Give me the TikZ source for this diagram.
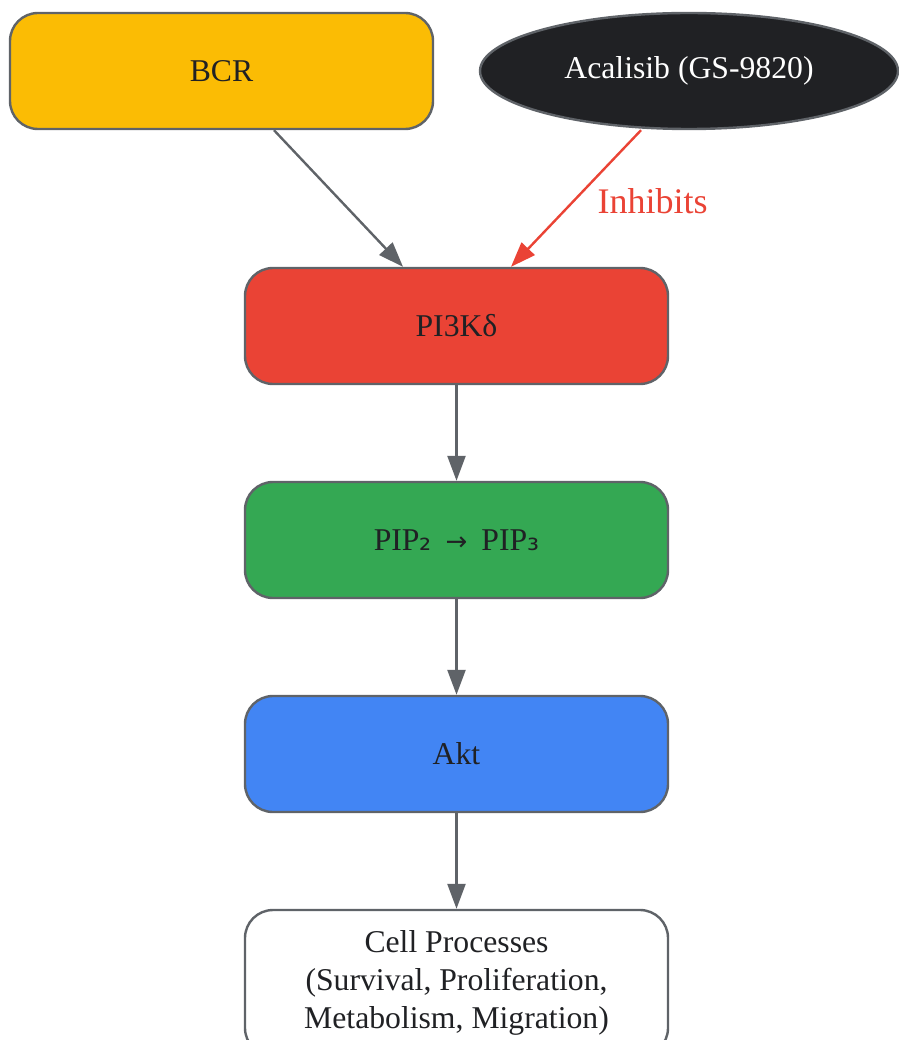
\documentclass[tikz,border=0pt]{standalone}
\usepackage{fontspec}
\setmainfont{Liberation Serif}
\newfontfamily\symfont{DejaVu Sans}
\usetikzlibrary{arrows.meta,shapes.geometric}
\definecolor{edgegray}{HTML}{5F6368}
\definecolor{textdark}{HTML}{202124}
\definecolor{bcryellow}{HTML}{FBBC04}
\definecolor{pired}{HTML}{EA4335}
\definecolor{pipgreen}{HTML}{34A853}
\definecolor{aktblue}{HTML}{4285F4}
\definecolor{drugblack}{HTML}{202124}
\tikzset{
every picture/.style={
line width=2.4pt
}}

\begin{document}
\begin{tikzpicture}[x=1pt, y=-1pt,
block/.style = {rectangle, rounded corners=28pt, draw=edgegray, line width=2.4pt,
  minimum width=423pt, minimum height=116pt, inner sep=0pt, text=textdark,
  font=\fontsize{31.7}{38}\selectfont, align=center},
link/.style = {draw=edgegray, line width=2.4pt, -{Triangle[length=25pt,width=18pt]}}]
\useasboundingbox (0,0) rectangle (898,1040);

\node [block, fill=bcryellow] at (221.5,71) (bcr) {BCR};
\node [ellipse, draw=edgegray, line width=2.4pt, fill=drugblack, text=white,
  minimum width=418pt, minimum height=116pt, inner sep=0pt,
  font=\fontsize{31.7}{38}\selectfont] at (689,71) (drug) {Acalisib (GS-9820)};
\node [block, fill=pired] at (456.5,326) (pik) {PI3Kδ};
\node [block, fill=pipgreen] at (456.5,540) (pip) {PIP{\symfont\fontsize{30}{30}\selectfont ₂}\hspace{14pt}{\symfont\fontsize{26}{30}\selectfont →}\hspace{14pt}PIP{\symfont\fontsize{30}{30}\selectfont ₃}};
\node [block, fill=aktblue] at (456.5,754) (akt) {Akt};
\node [block, fill=white, minimum height=146pt] at (456.5,983) (cell) {Cell Processes\\(Survival, Proliferation,\\Metabolism, Migration)};

\draw [link] ([xshift=52.5pt]bcr.south) -- ([xshift=-53.5pt]pik.north);
\draw [link, draw=pired, fill=pired] ([xshift=-48pt]drug.south) --
  node [pos=0.52, anchor=west, xshift=23pt, inner sep=0pt, text=pired,
  font=\fontsize{36}{40}\selectfont] (inh) {Inhibits} ([xshift=54.5pt]pik.north);
\draw [link, fill=edgegray] (pik) -- (pip);
\draw [link, fill=edgegray] (pip) -- (akt);
\draw [link, fill=edgegray] (akt) -- (cell);

\end{tikzpicture}
\end{document}
